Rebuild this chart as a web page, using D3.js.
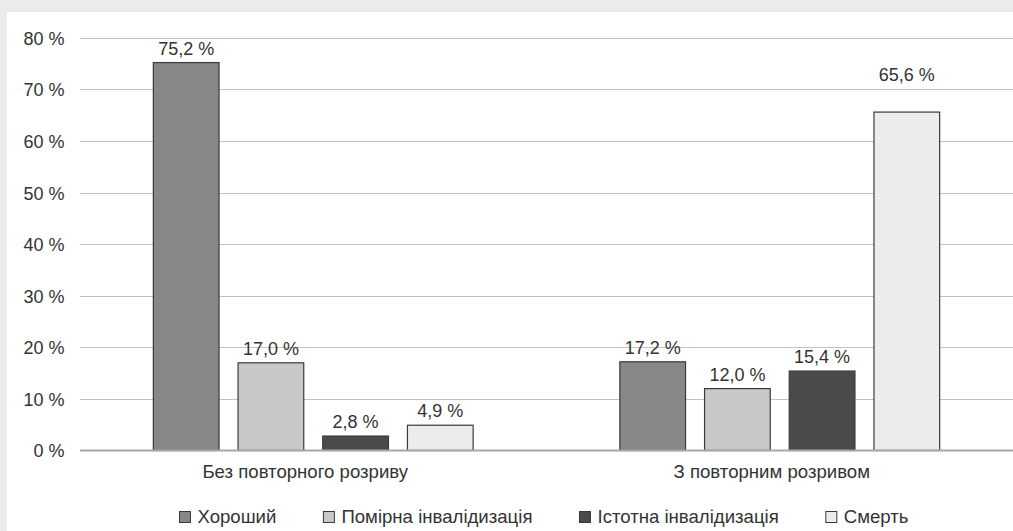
<!DOCTYPE html>
<html>
<head>
<meta charset="utf-8">
<script src="https://cdn.jsdelivr.net/npm/d3@7"></script>
<style>
  html, body { margin: 0; padding: 0; background: #ebebeb; }
  svg { display: block; }
  text { font-family: "Liberation Sans", Arial, sans-serif; fill: #333; }
</style>
</head>
<body>
<svg id="chart" width="1013" height="531"></svg>
<script>
// ---- data ----
const categories = ["Без повторного розриву", "З повторним розривом"];
const seriesNames = ["Хороший", "Помірна інвалідизація", "Істотна інвалідизація", "Смерть"];
const good =        [75.2, 17.2];
const moderate =    [17.0, 12.0];
const severe =      [2.8, 15.4];
const death =       [4.9, 65.6];
const yTicks = [0, 10, 20, 30, 40, 50, 60, 70, 80];
const yTickLabels = ["0 %", "10 %", "20 %", "30 %", "40 %", "50 %", "60 %", "70 %", "80 %"];

// ---- layout / style ----
const W = 1013, H = 531;
const colors = ["#878787", "#c8c8c8", "#4a4a4a", "#ececec"];
const fontSize = 18;
const textFontSize = 18.6;
const seriesValues = [good, moderate, severe, death];
const fmt = v => v.toFixed(1).replace(".", ",") + " %";
// manually moved data label in the original (category index, series index, extra shift in px)
const labelShift = { "1-3": -23 };

const svg = d3.select("#chart");

// white panel
svg.append("rect").attr("x", 7).attr("y", 12).attr("width", W - 7).attr("height", H - 12).attr("fill", "#ffffff");

const x0 = d3.scaleBand().domain(categories).range([80, 1013]).paddingInner(0).paddingOuter(0);
const x1 = d3.scaleBand().domain(seriesNames).range([0, x0.bandwidth()]).paddingInner(0.2125).paddingOuter(0.86);
const y = d3.scaleLinear().domain([0, 80]).range([450.5, 37.8]);

// gridlines
const grid = svg.append("g");
grid.selectAll("line").data(yTicks.filter(t => t > 0)).join("line")
  .attr("x1", 80).attr("x2", 1013)
  .attr("y1", d => Math.round(y(d)) + 0.5).attr("y2", d => Math.round(y(d)) + 0.5)
  .attr("stroke", "#c3c3c3").attr("stroke-width", 1);

// y axis labels
const yAxis = d3.axisLeft(y).tickValues(yTicks).tickSize(0).tickPadding(0)
  .tickFormat((d, i) => yTickLabels[i]);
const yg = svg.append("g").attr("transform", "translate(64.5,0)").call(yAxis);
yg.select(".domain").remove();
yg.selectAll("text").attr("font-size", fontSize).attr("font-family", "Liberation Sans, Arial, sans-serif")
  .attr("fill", "#333").attr("dy", "0.36em");

// bars
const groups = svg.append("g").selectAll("g").data(categories).join("g")
  .attr("transform", d => `translate(${x0(d)},0)`);

groups.each(function(cat, ci) {
  const g = d3.select(this);
  const rows = seriesNames.map((s, si) => ({ s, si, v: seriesValues[si][ci] }));
  g.selectAll("rect").data(rows).join("rect")
    .attr("x", d => x1(d.s) + 0.5)
    .attr("y", d => y(d.v))
    .attr("width", x1.bandwidth() - 1)
    .attr("height", d => y(0) - y(d.v))
    .attr("fill", d => colors[d.si])
    .attr("stroke", "#3a3a3a").attr("stroke-width", 1.2);
  g.selectAll("text.lbl").data(rows).join("text").attr("class", "lbl")
    .attr("x", d => x1(d.s) + x1.bandwidth() / 2)
    .attr("y", d => y(d.v) - 8 + (labelShift[ci + "-" + d.si] || 0))
    .attr("text-anchor", "middle").attr("font-size", fontSize)
    .text(d => fmt(d.v));
});

// baseline
svg.append("line").attr("x1", 80).attr("x2", 1013).attr("y1", y(0)).attr("y2", y(0))
  .attr("stroke", "#a8a8a8").attr("stroke-width", 2);

// category labels
const xAxis = d3.axisBottom(x0).tickSize(0).tickPadding(0);
const xg = svg.append("g").attr("transform", "translate(-8,0)").call(xAxis);
xg.select(".domain").remove();
xg.selectAll("text").attr("font-size", textFontSize).attr("font-family", "Liberation Sans, Arial, sans-serif")
  .attr("fill", "#333").attr("y", 478).attr("dy", 0);

// legend
const legend = svg.append("g");
const items = legend.selectAll("g").data(seriesNames).join("g");
items.append("rect").attr("width", 11).attr("height", 11).attr("y", 511)
  .attr("fill", (d, i) => colors[i]).attr("stroke", "#3a3a3a").attr("stroke-width", 1);
items.append("text").attr("x", 18).attr("y", 522).attr("font-size", textFontSize).text(d => d);
let cx = 0;
const offs = [];
items.each(function() {
  offs.push(cx);
  const w = d3.select(this).select("text").node().getComputedTextLength();
  cx += 18 + w + 47;
});
const total = cx - 47;
const start = 543.5 - total / 2;
items.attr("transform", (d, i) => `translate(${start + offs[i] + 0.5},0.5)`);
</script>
</body>
</html>
